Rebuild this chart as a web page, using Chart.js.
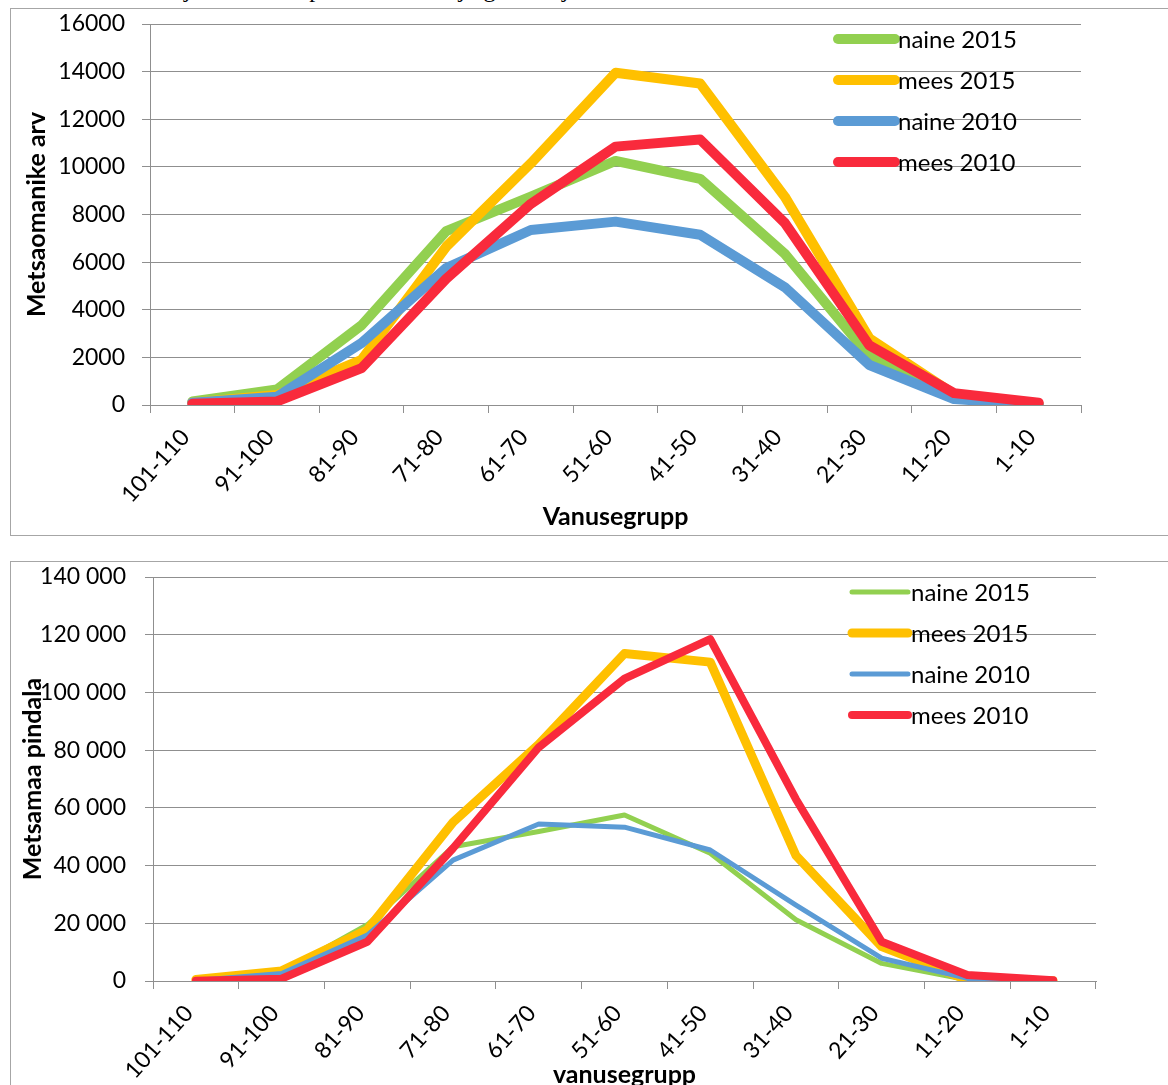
<!DOCTYPE html>
<html lang="et">
<head>
  <meta charset="UTF-8" />
  <title>Metsaomanikud vanusegrupiti</title>
  <style>
    html, body {
      margin: 0;
      padding: 0;
      background: #fff;
      overflow: hidden;
      width: 1168px;
      height: 1085px;
    }
    .caption {
      position: absolute;
      left: 0;
      top: -24px;
      font-family: "Liberation Serif", serif;
      font-size: 24px;
      white-space: nowrap;
      color: #000;
    }
    .frame {
      position: absolute;
      border: 1.5px solid #a6a6a6;
      box-sizing: border-box;
    }
    canvas {
      position: absolute;
    }
  </style>
</head>
<body>
  <div class="caption">Metsaomanike arv ja metsamaa pindala vanuse järgi 2010 ja 2015</div>

  <div class="frame" style="left:10px; top:8px; width:1180px; height:528px;"></div>
  <canvas id="owners" width="1170" height="527" style="left:10px; top:8px;"></canvas>

  <div class="frame" style="left:10px; top:561px; width:1180px; height:560px;"></div>
  <canvas id="area" width="1170" height="540" style="left:10px; top:561px;"></canvas>

  <script src="https://cdn.jsdelivr.net/npm/chart.js"></script>
  <script>
    // age groups, oldest on the left like the original
    const ageGroups = ['101-110', '91-100', '81-90', '71-80', '61-70', '51-60',
                       '41-50', '31-40', '21-30', '11-20', '1-10'];
    const seriesNames = ['naine 2015', 'mees 2015', 'naine 2010', 'mees 2010'];

    // number of forest owners
    const ownersWomen2015 = [150, 650, 3350, 7300, 8750, 10250, 9500, 6350, 2050, 300, 30];
    const ownersMen2015   = [100, 420, 1900, 6650, 10150, 13950, 13500, 8750, 2800, 450, 30];
    const ownersWomen2010 = [100, 350, 2600, 5750, 7350, 7700, 7150, 4950, 1680, 250, 20];
    const ownersMen2010   = [50, 150, 1550, 5300, 8450, 10850, 11150, 7650, 2500, 500, 100];

    // forest land area
    const areaWomen2015 = [500, 3000, 19500, 46500, 51800, 57500, 44300, 21200, 6100, 400, 100];
    const areaMen2015   = [500, 3500, 17700, 55000, 82000, 113500, 110500, 43500, 11900, 400, 100];
    const areaWomen2010 = [200, 2600, 15900, 41900, 54400, 53300, 45400, 26300, 7900, 900, 100];
    const areaMen2010   = [100, 800, 13600, 46000, 81000, 104800, 118500, 63000, 13600, 2100, 300];

    const colors = ['#92D050', '#FFC000', '#5B9BD5', '#F92A3C'];
    const gridColor = '#8f8f8f';

    Chart.defaults.font.family = 'Lato, "Open Sans", sans-serif';
    Chart.defaults.color = '#000';

    // Excel-like legend sitting inside the plot area
    const sideLegend = {
      id: 'sideLegend',
      afterDraw(chart, args, opts) {
        const ctx = chart.ctx;
        ctx.save();
        ctx.font = '24px Lato, sans-serif';
        ctx.textBaseline = 'middle';
        ctx.lineCap = 'round';
        chart.data.datasets.forEach((ds, i) => {
          const y = opts.y + i * opts.gap;
          ctx.strokeStyle = ds.borderColor;
          ctx.lineWidth = ds.borderWidth;
          ctx.beginPath();
          ctx.moveTo(opts.x, y);
          ctx.lineTo(opts.x + opts.len, y);
          ctx.stroke();
          ctx.fillStyle = '#000';
          ctx.fillText(ds.label, opts.x + opts.len + 3, y + 1);
        });
        ctx.restore();
      }
    };

    function makeChart(id, series, widths, cfg) {
      const datasets = series.map((data, i) => ({
        label: seriesNames[i],
        data,
        borderColor: colors[i],
        backgroundColor: colors[i],
        borderWidth: widths[i],
        pointRadius: 0,
        borderJoinStyle: 'round',
        borderCapStyle: 'round',
        order: series.length - 1 - i
      }));

      return new Chart(document.getElementById(id), {
        type: 'line',
        data: { labels: ageGroups, datasets },
        plugins: [sideLegend],
        options: {
          responsive: false,
          animation: false,
          devicePixelRatio: 1,
          layout: {
            autoPadding: false,
            padding: { left: 0, top: cfg.top, right: cfg.right, bottom: 0 }
          },
          plugins: {
            legend: { display: false },
            tooltip: { enabled: false },
            sideLegend: cfg.legend
          },
          scales: {
            x: {
              offset: true,
              grid: {
                offset: true,
                drawOnChartArea: false,
                drawTicks: true,
                tickLength: 8,
                color: gridColor
              },
              border: { display: true, color: gridColor },
              ticks: {
                autoSkip: false,
                minRotation: 48,
                maxRotation: 48,
                padding: 11,
                labelOffset: -7,
                font: { size: 23 }
              },
              title: {
                display: true,
                text: cfg.xTitle,
                font: { size: 25, weight: 'bold' },
                padding: { bottom: cfg.xTitlePad, top: 0 }
              },
              afterFit(scale) {
                scale.height = cfg.xHeight;
                scale.paddingLeft = 0;
                scale.paddingRight = 0;
              }
            },
            y: {
              min: 0,
              max: cfg.max,
              grid: {
                color: gridColor,
                drawTicks: true,
                tickLength: 8
              },
              border: { display: true, color: gridColor },
              ticks: {
                stepSize: cfg.step,
                padding: cfg.tickPad,
                font: { size: 23 },
                callback: cfg.fmt
              },
              title: {
                display: true,
                text: cfg.yTitle,
                font: { size: 25, weight: 'bold' },
                padding: { top: cfg.yTitlePad, bottom: 0 }
              },
              afterFit(scale) {
                scale.width = cfg.yWidth;
                scale.paddingTop = 0;
                scale.paddingBottom = 0;
              }
            }
          }
        }
      });
    }

    makeChart('owners',
      [ownersWomen2015, ownersMen2015, ownersWomen2010, ownersMen2010],
      [10, 10, 10, 10],
      {
        top: 16, right: 99, max: 16000, step: 2000,
        yWidth: 140, xHeight: 130, tickPad: 17,
        xTitle: 'Vanusegrupp', yTitle: 'Metsaomanike arv',
        xTitlePad: 3, yTitlePad: 12,
        fmt: v => String(v),
        legend: { x: 828, y: 31, gap: 41, len: 57 }
      });

    makeChart('area',
      [areaWomen2015, areaMen2015, areaWomen2010, areaMen2010],
      [5, 9, 5, 8],
      {
        top: 16, right: 84, max: 140000, step: 20000,
        yWidth: 143, xHeight: 120, tickPad: 19,
        xTitle: 'vanusegrupp', yTitle: 'Metsamaa pindala',
        xTitlePad: 11, yTitlePad: 8,
        fmt: v => String(v).replace(/\B(?=(\d{3})+(?!\d))/g, ' '),
        legend: { x: 842, y: 31, gap: 41, len: 56 }
      });
  </script>
</body>
</html>
